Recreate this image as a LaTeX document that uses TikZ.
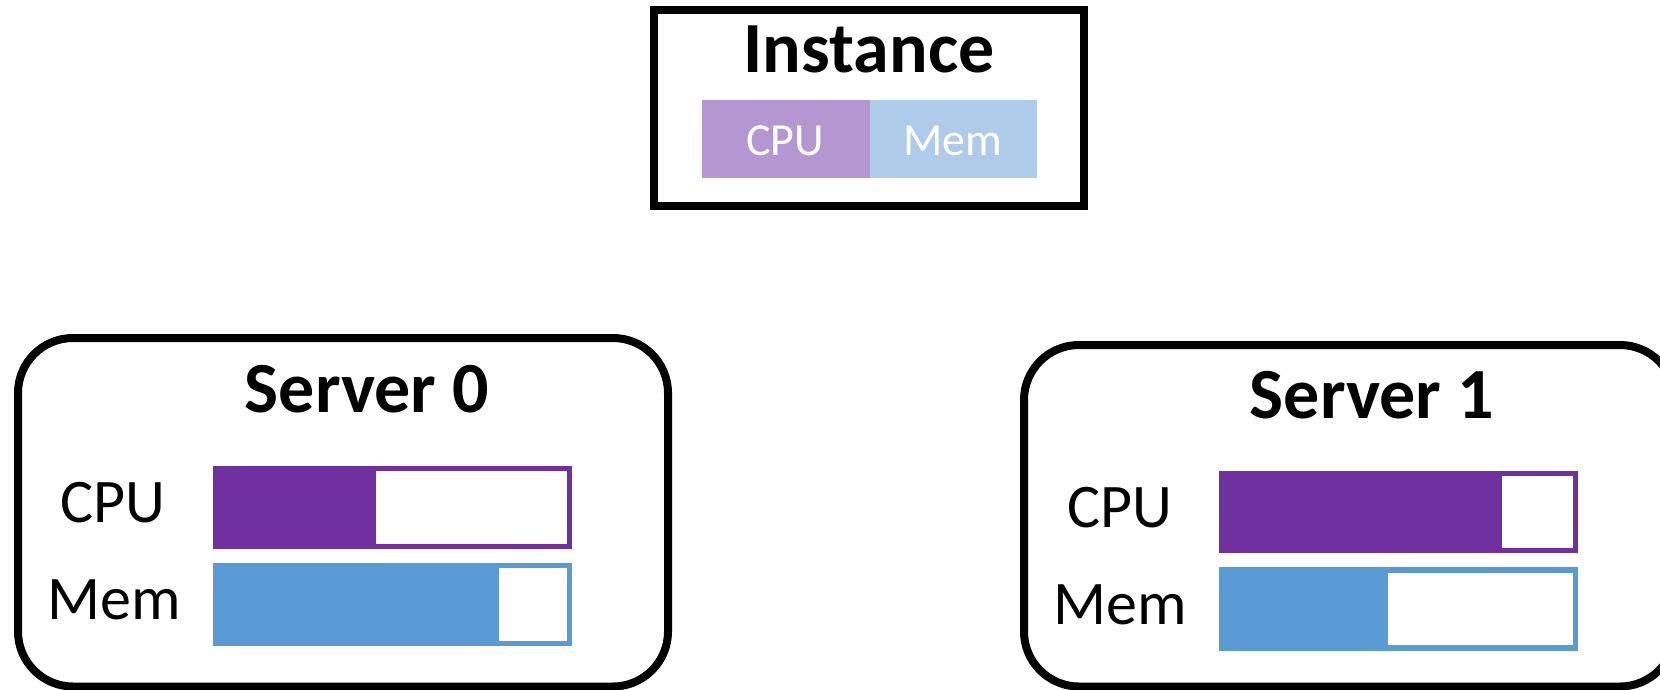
\documentclass[tikz,border=0pt]{standalone}
\usepackage{fontspec}
\setmainfont{Carlito}
\definecolor{cpuc}{HTML}{7030A0}
\definecolor{memc}{HTML}{5B9BD5}
\definecolor{lpurple}{HTML}{B497D0}
\definecolor{lblue}{HTML}{AECBE9}
\begin{document}
\begin{tikzpicture}[x=1pt,y=-1pt,
  rbox/.style={draw=black, line width=8pt, rounded corners=55pt, inner sep=0pt},
  sbox/.style={draw=black, line width=8pt, inner sep=0pt},
  title/.style={font=\fontsize{72}{80}\selectfont\bfseries, anchor=base, inner sep=0pt},
  lbl/.style={font=\fontsize{62}{70}\selectfont, anchor=base, inner sep=0pt},
  ilbl/.style={font=\fontsize{46}{52}\selectfont, text=white, anchor=base, inner sep=0pt},
]
\useasboundingbox (0,0) rectangle (1660,690);
\fill[white] (0,0) rectangle (1660,690);

% Instance
\node[sbox, minimum width=430pt, minimum height=195.5pt] (inst) at (869,108.25) {};
\node[title] (insttitle) at (869,73) {Instance};
\fill[lpurple] (702,100) rectangle (870,178);
\fill[lblue] (870,100) rectangle (1037,178);
\node[ilbl] (icpu) at (785,156) {CPU};
\node[ilbl] (imem) at (952.5,156) {Mem};

% Server 0
\node[rbox, minimum width=650pt, minimum height=348.5pt] (s0) at (343,512.25) {};
\node[title] (s0title) at (367,412) {Server 0};
\node[lbl] (s0cpul) at (113,522) {CPU};
\node[lbl] (s0meml) at (114.5,619) {Mem};
\fill[cpuc] (213,466) rectangle (572,549);
\fill[white] (376,471) rectangle (566.5,544);
\fill[memc] (213,563) rectangle (572,646);
\fill[white] (499,568) rectangle (566.5,641);

% Server 1
\node[rbox, minimum width=651pt, minimum height=341.5pt] (s1) at (1349.5,515.75) {};
\node[title] (s1title) at (1372,418) {Server 1};
\node[lbl] (s1cpul) at (1119.5,527) {CPU};
\node[lbl] (s1meml) at (1120.5,624) {Mem};
\fill[cpuc] (1219,471) rectangle (1578,553);
\fill[white] (1502,476) rectangle (1572.5,548);
\fill[memc] (1219,567) rectangle (1578,651);
\fill[white] (1388,573) rectangle (1572.5,645);
\end{tikzpicture}
\end{document}
